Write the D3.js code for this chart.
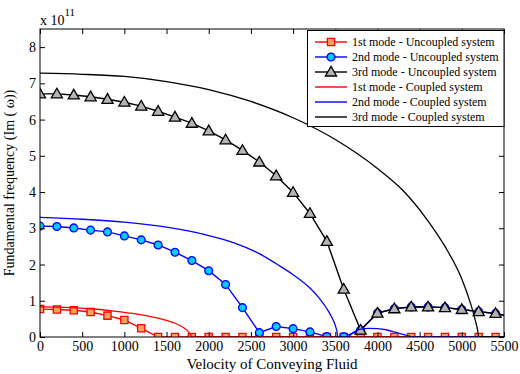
<!DOCTYPE html>
<html>
<head>
<meta charset="utf-8">
<script src="https://cdn.jsdelivr.net/npm/d3@7"></script>
<style>
body{margin:0;background:#fff;}
text{font-family:"Liberation Serif","Times New Roman",serif;fill:#000;}
</style>
</head>
<body>
<div id="chart"></div>
<script>

/* ==========================
   Data (values in 1e11)
========================== */

const velocity = [0,200,400,600,800,1000,1200,1400,1600,1800,2000,2200,2400,2600,2800,3000,3200,3400,3600,3800,4000,4200,4400,4600,4800,5000,5200,5400,5600];

const mode1Uncoupled = [0.77,0.76,0.74,0.69,0.59,0.47,0.24,0,0,0,0,0,0,0,0,0,0,0,0,0,0,0,0,0,0,0,0,0,0];
const mode2Uncoupled = [3.06,3.05,3.01,2.95,2.90,2.79,2.68,2.54,2.34,2.11,1.83,1.45,0.81,0.12,0.29,0.23,0.14,0.01,0.01,0.19,0.66,0.78,0.83,0.83,0.81,0.76,0.70,0.65,0.55];
const mode3Uncoupled = [6.71,6.71,6.68,6.63,6.56,6.48,6.37,6.23,6.07,5.90,5.69,5.44,5.15,4.83,4.45,3.99,3.41,2.64,1.32,0.19,0.66,0.78,0.83,0.83,0.81,0.76,0.70,0.65,0.55];

const mode1CoupledX = [0,300,600,900,1100,1300,1500,1600,1700,1750,1780,1800,5500];
const mode1CoupledY = [0.83,0.82,0.78,0.71,0.65,0.57,0.46,0.38,0.26,0.17,0.08,0,0];

const mode2CoupledX = [0,500,1000,1500,2000,2300,2600,2800,3000,3200,3300,3400,3450,3500,3520,3530,3650,3700,3750,3800,3900,4000,4100,4200,4300,4400,4420,5500];
const mode2CoupledY = [3.30,3.25,3.17,3.03,2.80,2.60,2.30,2.02,1.72,1.35,1.10,0.78,0.58,0.32,0.15,0,0,0.10,0.18,0.22,0.24,0.23,0.20,0.14,0.07,0.01,0,0];

const mode3CoupledX = [0,500,1000,1500,2000,2500,3000,3500,4000,4300,4600,4800,5000,5100,5150,5190,5200,5500];
const mode3CoupledY = [7.28,7.25,7.19,7.05,6.83,6.50,6.05,5.45,4.65,4.05,3.20,2.50,1.60,0.95,0.55,0.15,0,0];

const xTicks = [0,500,1000,1500,2000,2500,3000,3500,4000,4500,5000,5500];
const yTicks = [0,1,2,3,4,5,6,7,8];

const legendLabels = [
"1st mode - Uncoupled system",
"2nd mode - Uncoupled system",
"3rd mode - Uncoupled system",
"1st mode - Coupled system",
"2nd mode - Coupled system",
"3rd mode - Coupled system"
];

/* ==========================
   Setup
========================== */

const width = 520;
const height = 374;
const plotLeft = 40, plotRight = 504, plotTop = 29, plotBottom = 337;

const svg = d3.select("#chart")
.append("svg")
.attr("width", width)
.attr("height", height);

const x = d3.scaleLinear().domain([0,5500]).range([plotLeft,plotRight]);
const y = d3.scaleLinear().domain([0,8.5]).range([plotBottom,plotTop]);

svg.append("clipPath")
.attr("id","plotClip")
.append("rect")
.attr("x",plotLeft)
.attr("y",plotTop)
.attr("width",plotRight-plotLeft)
.attr("height",plotBottom-plotTop);

const plot = svg.append("g").attr("clip-path","url(#plotClip)");

const styles = [
{color:"#ff0000", fill:"#f6a45e", marker:"square"},
{color:"#0000ff", fill:"#00ccff", marker:"circle"},
{color:"#000000", fill:"#b4b4b4", marker:"triangle"}
];

const symbolFor = {
square: d3.symbol().type(d3.symbolSquare).size(52),
circle: d3.symbol().type(d3.symbolCircle).size(48),
triangle: d3.symbol().type(d3.symbolTriangle).size(54)
};

/* ==========================
   Uncoupled series
========================== */

const uncoupled = [mode1Uncoupled, mode2Uncoupled, mode3Uncoupled];

uncoupled.forEach((vals,i) => {

const pts = velocity.map((v,k) => [v, vals[k]]);

plot.append("path")
.datum(pts)
.attr("fill","none")
.attr("stroke",styles[i].color)
.attr("stroke-width",1.4)
.attr("d", d3.line().x(d => x(d[0])).y(d => y(d[1])));

plot.selectAll(".m"+i)
.data(pts)
.enter()
.append("path")
.attr("class","m"+i)
.attr("transform", d => "translate(" + x(d[0]) + "," + (y(d[1]) + (i===2 ? 0.8 : 0)) + ")")
.attr("d", symbolFor[styles[i].marker])
.attr("fill",styles[i].fill)
.attr("stroke",styles[i].color)
.attr("stroke-width",1.3);

});

/* ==========================
   Coupled series
========================== */

const coupled = [
[mode1CoupledX, mode1CoupledY],
[mode2CoupledX, mode2CoupledY],
[mode3CoupledX, mode3CoupledY]
];

coupled.forEach((c,i) => {

const pts = c[0].map((v,k) => [v, c[1][k]]);

plot.append("path")
.datum(pts)
.attr("fill","none")
.attr("stroke",styles[i].color)
.attr("stroke-width",1.3)
.attr("d", d3.line().curve(d3.curveMonotoneX).x(d => x(d[0])).y(d => y(d[1])));

});

/* ==========================
   Axes and box
========================== */

svg.append("g")
.attr("transform","translate(0," + plotBottom + ")")
.call(d3.axisBottom(x).tickValues(xTicks).tickSize(-5).tickPadding(4).tickFormat(d3.format("d")))
.call(g => g.select(".domain").remove())
.call(g => g.selectAll("text").attr("font-size",14));

svg.append("g")
.attr("transform","translate(0," + plotTop + ")")
.call(d3.axisTop(x).tickValues(xTicks).tickSize(-5).tickFormat(""))
.call(g => g.select(".domain").remove());

svg.append("g")
.attr("transform","translate(" + plotLeft + ",0)")
.call(d3.axisLeft(y).tickValues(yTicks).tickSize(-5).tickPadding(4).tickFormat(d3.format("d")))
.call(g => g.select(".domain").remove())
.call(g => g.selectAll("text").attr("font-size",14));

svg.append("g")
.attr("transform","translate(" + plotRight + ",0)")
.call(d3.axisRight(y).tickValues(yTicks).tickSize(-5).tickFormat(""))
.call(g => g.select(".domain").remove());

svg.append("rect")
.attr("x",plotLeft)
.attr("y",plotTop)
.attr("width",plotRight-plotLeft)
.attr("height",plotBottom-plotTop)
.attr("fill","none")
.attr("stroke","#000")
.attr("stroke-width",1);

/* ==========================
   Labels
========================== */

const expo = svg.append("text")
.attr("x",40)
.attr("y",25)
.attr("font-size",14);

expo.append("tspan").text("x 10");
expo.append("tspan").attr("font-size",11).attr("dy",-9).text("11");

svg.append("text")
.attr("x",(plotLeft+plotRight)/2)
.attr("y",369)
.attr("text-anchor","middle")
.attr("font-size",15)
.text("Velocity of Conveying Fluid");

svg.append("text")
.attr("transform","translate(14," + ((plotTop+plotBottom)/2) + ") rotate(-90)")
.attr("text-anchor","middle")
.attr("font-size",14)
.text("Fundamental frequency (Im ( \u03c9))");

/* ==========================
   Legend
========================== */

const legend = svg.append("g");

legend.append("rect")
.attr("x",307.5)
.attr("y",30.5)
.attr("width",196.5)
.attr("height",96)
.attr("fill","#fff")
.attr("stroke","#000")
.attr("stroke-width",1);

legendLabels.forEach((label,i) => {

const ly = 42 + i*15;
const s = styles[i % 3];

legend.append("line")
.attr("x1",315)
.attr("x2",347)
.attr("y1",ly)
.attr("y2",ly)
.attr("stroke",s.color)
.attr("stroke-width",1.4);

if(i < 3){

legend.append("path")
.attr("transform","translate(331," + (ly + (i===2 ? 0.8 : 0)) + ")")
.attr("d",symbolFor[s.marker])
.attr("fill",s.fill)
.attr("stroke",s.color)
.attr("stroke-width",1.3);

}

legend.append("text")
.attr("x",352)
.attr("y",ly + 4)
.attr("font-size",12)
.text(label);

});

</script>
</body>
</html>
